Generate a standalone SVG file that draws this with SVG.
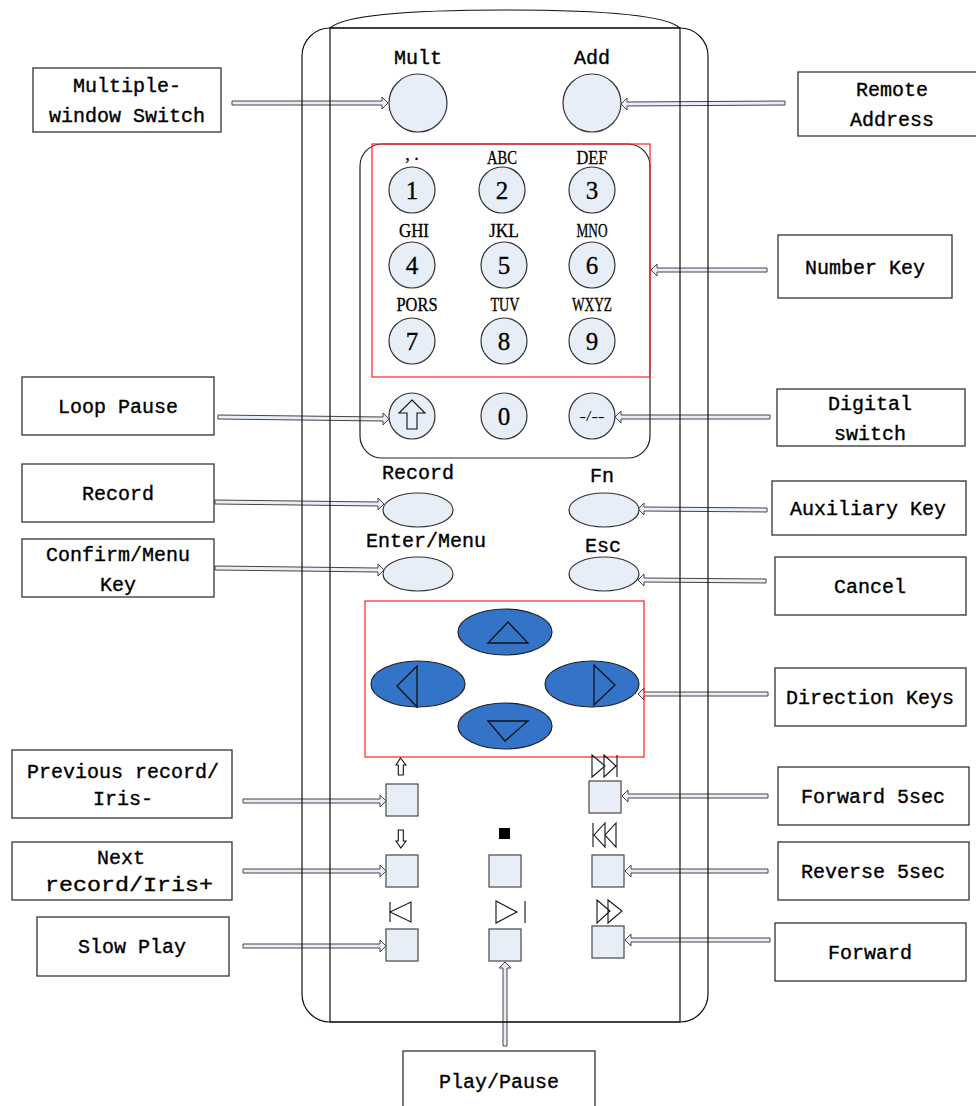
<svg xmlns="http://www.w3.org/2000/svg" width="976" height="1106" viewBox="0 0 976 1106">
<style>
.lbl{font-family:"Liberation Mono","DejaVu Sans Mono",monospace;font-size:20px;fill:#000;stroke:#000;stroke-width:0.35;text-anchor:middle}
.box{fill:#fff;stroke:#333;stroke-width:1.3}
.key{fill:#e8eef8;stroke:#333;stroke-width:1.2}
.sq{fill:#e8eef8;stroke:#555;stroke-width:1.3}
.dir{fill:#3474c8;stroke:#222;stroke-width:1.2}
.tri{fill:none;stroke:#111;stroke-width:1.3}
.sym{fill:none;stroke:#111;stroke-width:1.1}
.arr{fill:#e8eef8;stroke:#444;stroke-width:1}
.let{font-family:"Liberation Serif","Times New Roman",serif;font-size:18px;fill:#000;stroke:#000;stroke-width:0.3;text-anchor:middle}
.dig{font-family:"Liberation Serif","Times New Roman",serif;font-size:25px;fill:#000;stroke:#000;stroke-width:0.3;text-anchor:middle}
.red{fill:none;stroke:#ff2020;stroke-width:1.2}
.body{fill:none;stroke:#111;stroke-width:1.2}
</style>

<g id="connectors">
<path class="arr" d="M232,101 L382,101 L382,97 L388,103 L382,109 L382,105 L232,105 Z"/>
<path class="arr" d="M785,101 L627,102 L627,98 L621,104 L627,110 L627,106 L785,105 Z"/>
<path class="arr" d="M767,268 L657,268 L657,264 L651,270 L657,276 L657,272 L767,272 Z"/>
<path class="arr" d="M218,415 L383,417 L383,413 L389,419 L383,425 L383,421 L218,419 Z"/>
<path class="arr" d="M770,415 L621,415 L621,411 L615,417 L621,423 L621,419 L770,419 Z"/>
<path class="arr" d="M215,500 L378,502 L378,498 L384,504 L378,510 L378,506 L215,504 Z"/>
<path class="arr" d="M767,508 L644,507 L644,503 L638,509 L644,515 L644,511 L767,512 Z"/>
<path class="arr" d="M215,566 L378,568 L378,564 L384,570 L378,576 L378,572 L215,570 Z"/>
<path class="arr" d="M766,579 L644,578 L644,574 L638,580 L644,586 L644,582 L766,583 Z"/>
<path class="arr" d="M768,692 L644,692 L644,688 L638,694 L644,700 L644,696 L768,696 Z"/>
<path class="arr" d="M243,799 L380,799 L380,795 L386,801 L380,807 L380,803 L243,803 Z"/>
<path class="arr" d="M768,794 L628,794 L628,790 L622,796 L628,802 L628,798 L768,798 Z"/>
<path class="arr" d="M243,869 L380,869 L380,865 L386,871 L380,877 L380,873 L243,873 Z"/>
<path class="arr" d="M768,869 L631,869 L631,865 L625,871 L631,877 L631,873 L768,873 Z"/>
<path class="arr" d="M243,944 L380,944 L380,940 L386,946 L380,952 L380,948 L243,948 Z"/>
<path class="arr" d="M770,938 L631,938 L631,934 L625,940 L631,946 L631,942 L770,942 Z"/>
<path class="arr" d="M503,1046 L503,968 L499,968 L505,962 L511,968 L507,968 L507,1046 Z"/>
</g>

<g id="remote-body">
<rect class="body" x="302" y="28" width="406" height="994" rx="28"/>
<rect class="body" x="330" y="28" width="350" height="994"/>
<path class="body" d="M330,28 C345,14 420,10 505,10 C590,10 665,14 680,28"/>
</g>

<g id="key-mult">
<text class="lbl" x="418" y="64">Mult</text>
<circle class="key" cx="418" cy="103" r="29"/>
</g>
<g id="key-add">
<text class="lbl" x="592" y="64">Add</text>
<circle class="key" cx="592" cy="103" r="29"/>
</g>

<g id="numpad">
<rect x="360" y="144" width="290" height="314" rx="22" fill="none" stroke="#222" stroke-width="1.2"/>
<rect class="red" x="372" y="144" width="278" height="233"/>
<text class="let" x="412" y="160" font-size="20">, .</text>
<text class="let" x="502" y="164" textLength="30" lengthAdjust="spacingAndGlyphs">ABC</text>
<text class="let" x="592" y="164" textLength="31" lengthAdjust="spacingAndGlyphs">DEF</text>
<text class="let" x="414" y="237" textLength="30" lengthAdjust="spacingAndGlyphs">GHI</text>
<text class="let" x="504" y="237" textLength="30" lengthAdjust="spacingAndGlyphs">JKL</text>
<text class="let" x="592" y="237" textLength="31" lengthAdjust="spacingAndGlyphs">MNO</text>
<text class="let" x="417" y="311" textLength="41" lengthAdjust="spacingAndGlyphs">PORS</text>
<text class="let" x="505" y="311" textLength="29" lengthAdjust="spacingAndGlyphs">TUV</text>
<text class="let" x="592" y="311" textLength="40" lengthAdjust="spacingAndGlyphs">WXYZ</text>
<circle class="key" cx="412" cy="190" r="23"/><text class="dig" x="412" y="199">1</text>
<circle class="key" cx="502" cy="190" r="23"/><text class="dig" x="502" y="199">2</text>
<circle class="key" cx="592" cy="190" r="23"/><text class="dig" x="592" y="199">3</text>
<circle class="key" cx="412" cy="265" r="23"/><text class="dig" x="412" y="274">4</text>
<circle class="key" cx="504" cy="265" r="23"/><text class="dig" x="504" y="274">5</text>
<circle class="key" cx="592" cy="265" r="23"/><text class="dig" x="592" y="274">6</text>
<circle class="key" cx="412" cy="341" r="23"/><text class="dig" x="412" y="350">7</text>
<circle class="key" cx="504" cy="341" r="23"/><text class="dig" x="504" y="350">8</text>
<circle class="key" cx="592" cy="341" r="23"/><text class="dig" x="592" y="350">9</text>
<circle class="key" cx="412" cy="416" r="23"/>
<path class="sym" d="M412,400 L425,413 L417,413 L417,429 L407,429 L407,413 L399,413 Z" fill="#e8eef8"/>
<circle class="key" cx="504" cy="416" r="23"/><text class="dig" x="504" y="425">0</text>
<circle class="key" cx="592" cy="416" r="23"/>
<text x="592" y="421" font-family="Liberation Serif,serif" font-size="15" text-anchor="middle" textLength="25" lengthAdjust="spacingAndGlyphs">-/--</text>
</g>

<g id="key-record">
<text class="lbl" x="418" y="479">Record</text>
<ellipse class="key" cx="418" cy="510" rx="35" ry="17"/>
</g>
<g id="key-fn">
<text class="lbl" x="602" y="482">Fn</text>
<ellipse class="key" cx="604" cy="510" rx="35" ry="17"/>
</g>
<g id="key-enter">
<text class="lbl" x="426" y="547">Enter/Menu</text>
<ellipse class="key" cx="418" cy="574" rx="35" ry="17"/>
</g>
<g id="key-esc">
<text class="lbl" x="603" y="552">Esc</text>
<ellipse class="key" cx="604" cy="574" rx="35" ry="17"/>
</g>

<g id="direction-keys">
<rect class="red" x="365" y="601" width="279" height="156"/>
<ellipse class="dir" cx="505" cy="632" rx="47" ry="23"/>
<path class="tri" d="M508,622 L528,643 L488,643 Z"/>
<ellipse class="dir" cx="418" cy="684" rx="47" ry="23"/>
<path class="tri" d="M397,686 L417,666 L417,707 Z"/>
<ellipse class="dir" cx="592" cy="684" rx="47" ry="23"/>
<path class="tri" d="M594,665 L615,685 L594,705 Z"/>
<ellipse class="dir" cx="505" cy="726" rx="47" ry="23"/>
<path class="tri" d="M488,721 L528,721 L505,741 Z"/>
</g>

<g id="key-prev">
<path class="sym" d="M400.5,758 L406,765 L403.3,765 L403.3,775 L398.3,775 L398.3,765 L396,765 Z" fill="#e8eef8"/>
<rect class="sq" x="386" y="784" width="32" height="32"/>
</g>
<g id="key-fwd5">
<path class="sym" d="M592,755 L605,766 L592,777 Z M604,755 L616,766 L604,777 Z M617,755 L617,777"/>
<rect class="sq" x="589" y="781" width="32" height="32"/>
</g>
<g id="key-next">
<path class="sym" d="M398.3,830 L403.3,830 L403.3,841 L406,841 L400.8,848 L396,841 L398.3,841 Z" fill="#e8eef8"/>
<rect class="sq" x="386" y="855" width="32" height="32"/>
</g>
<g id="key-stop">
<rect x="499" y="828" width="11" height="11" fill="#000"/>
<rect class="sq" x="489" y="855" width="32" height="32"/>
</g>
<g id="key-rev5">
<path class="sym" d="M593,823 L593,847 M605,823 L594,835 L605,847 Z M616,823 L605,835 L616,847 Z"/>
<rect class="sq" x="592" y="855" width="32" height="32"/>
</g>
<g id="key-slow">
<path class="sym" d="M390,902 L390,922 M390,912 L411,902 L411,922 Z"/>
<rect class="sq" x="386" y="929" width="32" height="32"/>
</g>
<g id="key-play">
<path class="sym" d="M496,901 L517,912 L496,923 Z M525,901 L525,923"/>
<rect class="sq" x="489" y="929" width="32" height="32"/>
</g>
<g id="key-forward">
<path class="sym" d="M597,900 L610,911 L597,923 Z M608,900 L622,911 L608,923 Z"/>
<rect class="sq" x="592" y="926" width="32" height="32"/>
</g>

<g id="label-multiple-window">
<rect class="box" x="33" y="68" width="188" height="64"/>
<text class="lbl" x="127" y="92">Multiple-</text>
<text class="lbl" x="127" y="122">window Switch</text>
</g>
<g id="label-remote-address">
<rect class="box" x="798" y="72" width="180" height="64"/>
<text class="lbl" x="892" y="96">Remote</text>
<text class="lbl" x="892" y="126">Address</text>
</g>
<g id="label-number-key">
<rect class="box" x="778" y="235" width="174" height="63"/>
<text class="lbl" x="865" y="274">Number Key</text>
</g>
<g id="label-loop-pause">
<rect class="box" x="22" y="377" width="192" height="58"/>
<text class="lbl" x="118" y="413">Loop Pause</text>
</g>
<g id="label-digital-switch">
<rect class="box" x="777" y="389" width="188" height="57"/>
<text class="lbl" x="870" y="410">Digital</text>
<text class="lbl" x="870" y="440">switch</text>
</g>
<g id="label-record">
<rect class="box" x="22" y="464" width="192" height="58"/>
<text class="lbl" x="118" y="500">Record</text>
</g>
<g id="label-auxiliary">
<rect class="box" x="772" y="481" width="194" height="54"/>
<text class="lbl" x="868" y="515">Auxiliary Key</text>
</g>
<g id="label-confirm">
<rect class="box" x="22" y="539" width="192" height="58"/>
<text class="lbl" x="118" y="561">Confirm/Menu</text>
<text class="lbl" x="118" y="591">Key</text>
</g>
<g id="label-cancel">
<rect class="box" x="775" y="557" width="191" height="58"/>
<text class="lbl" x="870" y="593">Cancel</text>
</g>
<g id="label-direction">
<rect class="box" x="775" y="668" width="191" height="58"/>
<text class="lbl" x="870" y="704">Direction Keys</text>
</g>
<g id="label-previous">
<rect class="box" x="12" y="750" width="220" height="68"/>
<text class="lbl" x="123" y="778">Previous record/</text>
<text class="lbl" x="123" y="805">Iris-</text>
</g>
<g id="label-forward5">
<rect class="box" x="778" y="767" width="191" height="58"/>
<text class="lbl" x="873" y="803">Forward 5sec</text>
</g>
<g id="label-next">
<rect class="box" x="12" y="842" width="220" height="58"/>
<text class="lbl" x="121" y="864">Next</text>
<text class="lbl" x="129" y="891" textLength="168" lengthAdjust="spacingAndGlyphs">record/Iris+</text>
</g>
<g id="label-reverse5">
<rect class="box" x="778" y="842" width="191" height="58"/>
<text class="lbl" x="873" y="878">Reverse 5sec</text>
</g>
<g id="label-slow-play">
<rect class="box" x="37" y="917" width="192" height="59"/>
<text class="lbl" x="132" y="953">Slow Play</text>
</g>
<g id="label-forward">
<rect class="box" x="775" y="923" width="191" height="58"/>
<text class="lbl" x="870" y="959">Forward</text>
</g>
<g id="label-play-pause">
<rect class="box" x="403" y="1051" width="192" height="70"/>
<text class="lbl" x="499" y="1088">Play/Pause</text>
</g>
</svg>
